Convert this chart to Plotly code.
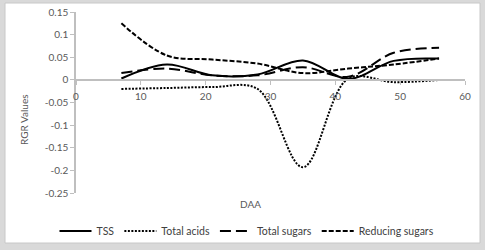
import plotly.graph_objects as go

daa = [7, 14, 21, 28, 35, 42, 49, 56]
tss = [0.003, 0.034, 0.010, 0.012, 0.043, 0.002, 0.042, 0.047]
total_acids = [-0.020, -0.018, -0.016, -0.020, -0.193, 0.003, -0.005, 0.000]
total_sugars = [0.015, 0.025, 0.010, 0.010, 0.028, 0.007, 0.060, 0.071]
reducing_sugars = [0.125, 0.054, 0.045, 0.036, 0.015, 0.025, 0.034, 0.047]

x_ticks = [0, 10, 20, 30, 40, 50, 60]
y_ticks = [0.15, 0.1, 0.05, 0, -0.05, -0.1, -0.15, -0.2, -0.25]
y_tick_text = ["0.15", "0.1", "0.05", "0", "-0.05", "-0.1", "-0.15", "-0.2", "-0.25"]

W, H = 485, 250
L, R, T, B = 76, 20, 12, 57
pw, ph = W - L - R, H - T - B

def px_x(p):
    return (p - L) / pw

def px_y(p):
    return (H - B - p) / ph

font = "Lato, 'Open Sans', sans-serif"
fig = go.Figure()
series = [
    ("TSS", tss, "solid"),
    ("Total acids", total_acids, "2px,1.5px"),
    ("Total sugars", total_sugars, "11px,5px"),
    ("Reducing sugars", reducing_sugars, "5px,2px"),
]
for name, vals, dash in series:
    fig.add_trace(go.Scatter(
        x=daa, y=vals, name=name, mode="lines",
        line=dict(color="black", width=2, dash=dash, shape="spline", smoothing=1.0),
    ))

fig.update_layout(
    width=W, height=H,
    margin=dict(l=L, r=R, t=T, b=B, autoexpand=False),
    paper_bgcolor="#d9d9d9",
    plot_bgcolor="rgba(0,0,0,0)",
    font=dict(family=font, size=10, color="#595959"),
    showlegend=True,
    legend=dict(orientation="h", xref="container", yref="container",
                x=247 / W, xanchor="center", y=1 - 231 / H, yanchor="middle",
                font=dict(size=10.5, color="#404040"), bgcolor="rgba(0,0,0,0)",
                itemwidth=32, tracegroupgap=0),
    xaxis=dict(range=[0, 60], tickvals=x_ticks, showgrid=False, zeroline=False,
               showline=True, linecolor="#bfbfbf", linewidth=1.5,
               ticks="outside", ticklen=4, tickcolor="#bfbfbf", automargin=False,
               ticklabelstandoff=3,
               anchor="free", position=0.625, tickfont=dict(size=10, color="#595959")),
    yaxis=dict(range=[-0.25, 0.15], tickvals=y_ticks, ticktext=y_tick_text,
               showgrid=False, zeroline=False, showline=True, linecolor="#bfbfbf",
               linewidth=1.5, ticks="outside", ticklen=4, tickcolor="#bfbfbf",
               automargin=False, tickfont=dict(size=10, color="#595959")),
    shapes=[dict(type="rect", xref="paper", yref="paper",
                 x0=px_x(5), x1=px_x(480), y0=px_y(243), y1=px_y(3),
                 fillcolor="white", line=dict(color="#c8c8c8", width=1), layer="below")],
    annotations=[
        dict(text="DAA", xref="paper", yref="paper", x=px_x(250), y=px_y(204),
             xanchor="center", yanchor="middle",
             showarrow=False, font=dict(size=10, color="#595959")),
        dict(text="RGR Values", xref="paper", yref="paper", x=px_x(24), y=px_y(120),
             xanchor="center", yanchor="middle",
             showarrow=False, textangle=-90, font=dict(size=10, color="#595959")),
    ],
)

fig.write_html("out.html", config={"displayModeBar": False},
               post_script="document.body.style.margin='0px';document.body.style.padding='0px';")
